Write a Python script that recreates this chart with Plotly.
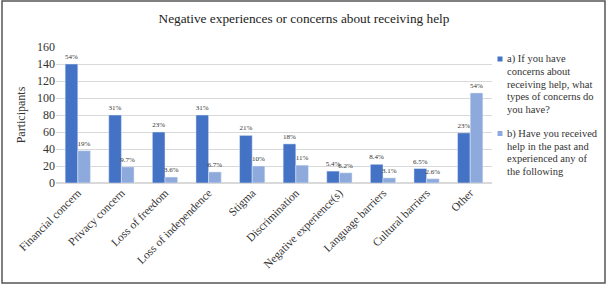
import plotly.graph_objects as go

categories = ["Financial concern", "Privacy concern", "Loss of freedom", "Loss of independence",
              "Stigma", "Discrimination", "Negative experience(s)", "Language barriers",
              "Cultural barriers", "Other"]
legend_a_lines = ["a) If you have", "concerns about", "receiving help, what", "types of concerns do", "you have?"]
legend_b_lines = ["b) Have you received", "help in the past and", "experienced any of", "the following"]
values_a = [140, 80, 60, 80, 56, 46, 14, 22, 17, 59]
values_b = [38, 19, 7, 13, 20, 21, 12, 6, 5, 106]
labels_a = ["54%", "31%", "23%", "31%", "21%", "18%", "5.4%", "8.4%", "6.5%", "23%"]
labels_b = ["19%", "9.7%", "3.6%", "6.7%", "10%", "11%", "6.2%", "3.1%", "2.6%", "54%"]
y_ticks = [0, 20, 40, 60, 80, 100, 120, 140, 160]

COLOR_A = "#4472C4"
COLOR_B = "#8EAADC"
FONT = "Liberation Serif"
L, R, T, B = 56, 116, 47, 102
W, H = 608, 285
pw, ph = W - L - R, H - T - B


def px_x(x):
    return (x - L) / pw


def px_y(y):
    return (H - B - y) / ph


fig = go.Figure()
fig.add_trace(go.Bar(x=categories, y=values_a, name=" ".join(legend_a_lines), marker_color=COLOR_A,
                     text=labels_a, textposition="outside", constraintext="none",
                     textfont=dict(family=FONT, size=7, color="#333"), cliponaxis=False))
fig.add_trace(go.Bar(x=categories, y=values_b, name=" ".join(legend_b_lines), marker_color=COLOR_B,
                     text=labels_b, textposition="outside", constraintext="none",
                     textfont=dict(family=FONT, size=7, color="#333"), cliponaxis=False))

fig.update_layout(
    width=W, height=H,
    margin=dict(l=L, r=R, t=T, b=B, autoexpand=False),
    barmode="group", bargap=0.42, bargroupgap=0,
    plot_bgcolor="white", paper_bgcolor="white",
    font=dict(family=FONT, color="#333"),
    title=dict(text="Negative experiences or concerns about receiving help", x=0.5, xref="container",
               xanchor="center", y=1 - 18 / H, yref="container", yanchor="middle",
               font=dict(family=FONT, size=13.3, color="#222")),
    showlegend=False,
)
fig.update_xaxes(tickangle=-45, tickfont=dict(family=FONT, size=11.5, color="#333"),
                 showgrid=False, showline=False, ticks="")
fig.update_yaxes(range=[0, 160], tickvals=y_ticks, gridcolor="#D9D9D9", gridwidth=1,
                 zeroline=True, zerolinecolor="#D9D9D9",
                 tickfont=dict(family=FONT, size=12, color="#333"),
                 title=dict(text="Participants", font=dict(family=FONT, size=12, color="#333"), standoff=8))

# custom legend
LINE_H = 12.6
for lines, color, y0 in [(legend_a_lines, COLOR_A, 59), (legend_b_lines, COLOR_B, 133.5)]:
    fig.add_shape(type="rect", xref="paper", yref="paper",
                  x0=px_x(497.5), x1=px_x(502.5), y0=px_y(y0 + 2.5), y1=px_y(y0 - 2.5),
                  line=dict(width=0), fillcolor=color)
    for i, line in enumerate(lines):
        fig.add_annotation(text=line, xref="paper", yref="paper", x=px_x(505), y=px_y(y0 + i * LINE_H),
                           xanchor="left", yanchor="middle", showarrow=False,
                           font=dict(family=FONT, size=10.5, color="#333"))

fig.add_shape(type="rect", xref="paper", yref="paper",
              x0=px_x(2), x1=px_x(605), y0=px_y(283), y1=px_y(1),
              line=dict(color="#555", width=1.5), fillcolor="rgba(0,0,0,0)", layer="below")

fig.write_html("out.html")
